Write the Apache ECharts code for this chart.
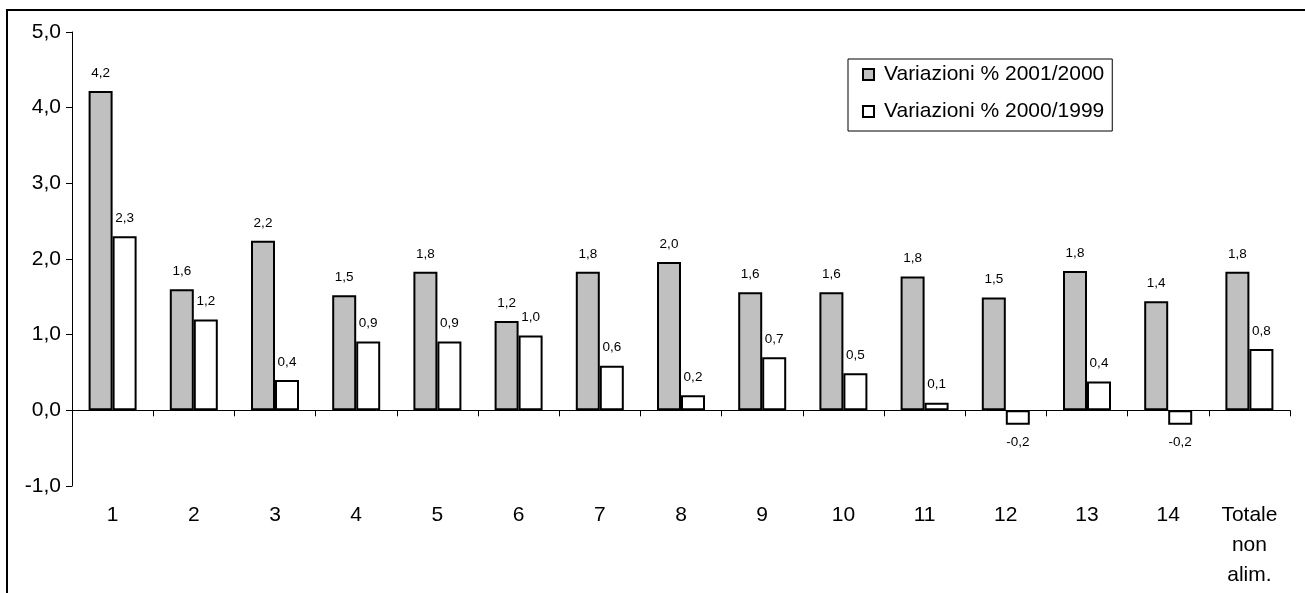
<!DOCTYPE html>
<html>
<head>
<meta charset="utf-8">
<script src="https://cdn.jsdelivr.net/npm/echarts@6/dist/echarts.min.js"></script>
<style>
  html, body { margin: 0; padding: 0; background: #fff; }
  #chart { width: 1305px; height: 593px; }
</style>
</head>
<body>
<div id="chart"></div>
<script>
// Categories along the horizontal axis
const categories = ['1', '2', '3', '4', '5', '6', '7', '8', '9', '10', '11', '12', '13', '14', 'Totale\nnon\nalim.'];

// Percentage changes per category
const var2001_2000 = [4.22, 1.60, 2.24, 1.52, 1.83, 1.18, 1.83, 1.96, 1.56, 1.56, 1.77, 1.49, 1.84, 1.44, 1.83];
const var2000_1999 = [2.30, 1.20, 0.40, 0.91, 0.91, 0.99, 0.59, 0.20, 0.70, 0.49, 0.10, -0.19, 0.38, -0.19, 0.81];

const seriesNames = ['Variazioni % 2001/2000', 'Variazioni % 2000/1999'];

const FONT = "'Liberation Sans', Arial, sans-serif";

// Italian decimal format: one decimal, comma separator
function fmt(v) {
  return v.toFixed(1).replace('.', ',');
}

// Labels above positive bars, below negative ones
function withLabels(values) {
  return values.map(v => ({
    value: v,
    label: { position: v < 0 ? 'bottom' : 'top' }
  }));
}

const labelStyle = {
  show: true,
  distance: 11,
  fontFamily: FONT,
  fontSize: 13.5,
  color: '#000',
  formatter: p => fmt(p.value)
};

const chart = echarts.init(document.getElementById('chart'), null, { renderer: 'canvas' });

chart.setOption({
  animation: false,
  backgroundColor: '#fff',
  textStyle: { fontFamily: FONT },
  graphic: [{
    type: 'rect',
    shape: { x: 7, y: 10, width: 1400, height: 700 },
    style: { fill: 'none', stroke: '#000', lineWidth: 2 },
    silent: true,
    z: -10
  }],
  legend: {
    orient: 'vertical',
    left: 848,
    top: 59,
    padding: [5, 8, 9, 14],
    borderColor: '#000',
    borderWidth: 1,
    itemWidth: 11,
    itemHeight: 11,
    itemGap: 16,
    icon: 'rect',
    textStyle: { fontFamily: FONT, fontSize: 21, color: '#000', lineHeight: 21, padding: [0, 0, 0, 5] },
    data: seriesNames
  },
  grid: { left: 72, right: 15, top: 32, bottom: 107, containLabel: false },
  xAxis: [{
    type: 'category',
    data: categories,
    axisLine: { onZero: true, lineStyle: { color: '#000', width: 1 } },
    axisTick: { show: true, length: 6, lineStyle: { color: '#000' } },
    axisLabel: { show: false }
  }, {
    type: 'category',
    data: categories,
    position: 'bottom',
    axisLine: { show: false, onZero: false },
    axisTick: { show: false },
    axisLabel: {
      show: true,
      interval: 0,
      margin: 14,
      fontFamily: FONT,
      fontSize: 21,
      lineHeight: 30,
      color: '#000'
    }
  }],
  yAxis: {
    type: 'value',
    min: -1,
    max: 5,
    interval: 1,
    splitLine: { show: false },
    axisLine: { show: true, lineStyle: { color: '#000', width: 1 } },
    axisTick: { show: true, length: 6, lineStyle: { color: '#000' } },
    axisLabel: {
      margin: 11,
      fontFamily: FONT,
      fontSize: 21,
      color: '#000',
      formatter: v => fmt(v)
    }
  },
  series: [{
    name: seriesNames[0],
    type: 'bar',
    xAxisIndex: 0,
    data: withLabels(var2001_2000),
    barWidth: 24,
    barGap: '0%',
    itemStyle: { color: '#c0c0c0', borderColor: '#000', borderWidth: 2 },
    label: labelStyle
  }, {
    name: seriesNames[1],
    type: 'bar',
    xAxisIndex: 0,
    data: withLabels(var2000_1999),
    barWidth: 24,
    barGap: '0%',
    itemStyle: { color: '#ffffff', borderColor: '#000', borderWidth: 2 },
    label: labelStyle
  }]
});
</script>
</body>
</html>
